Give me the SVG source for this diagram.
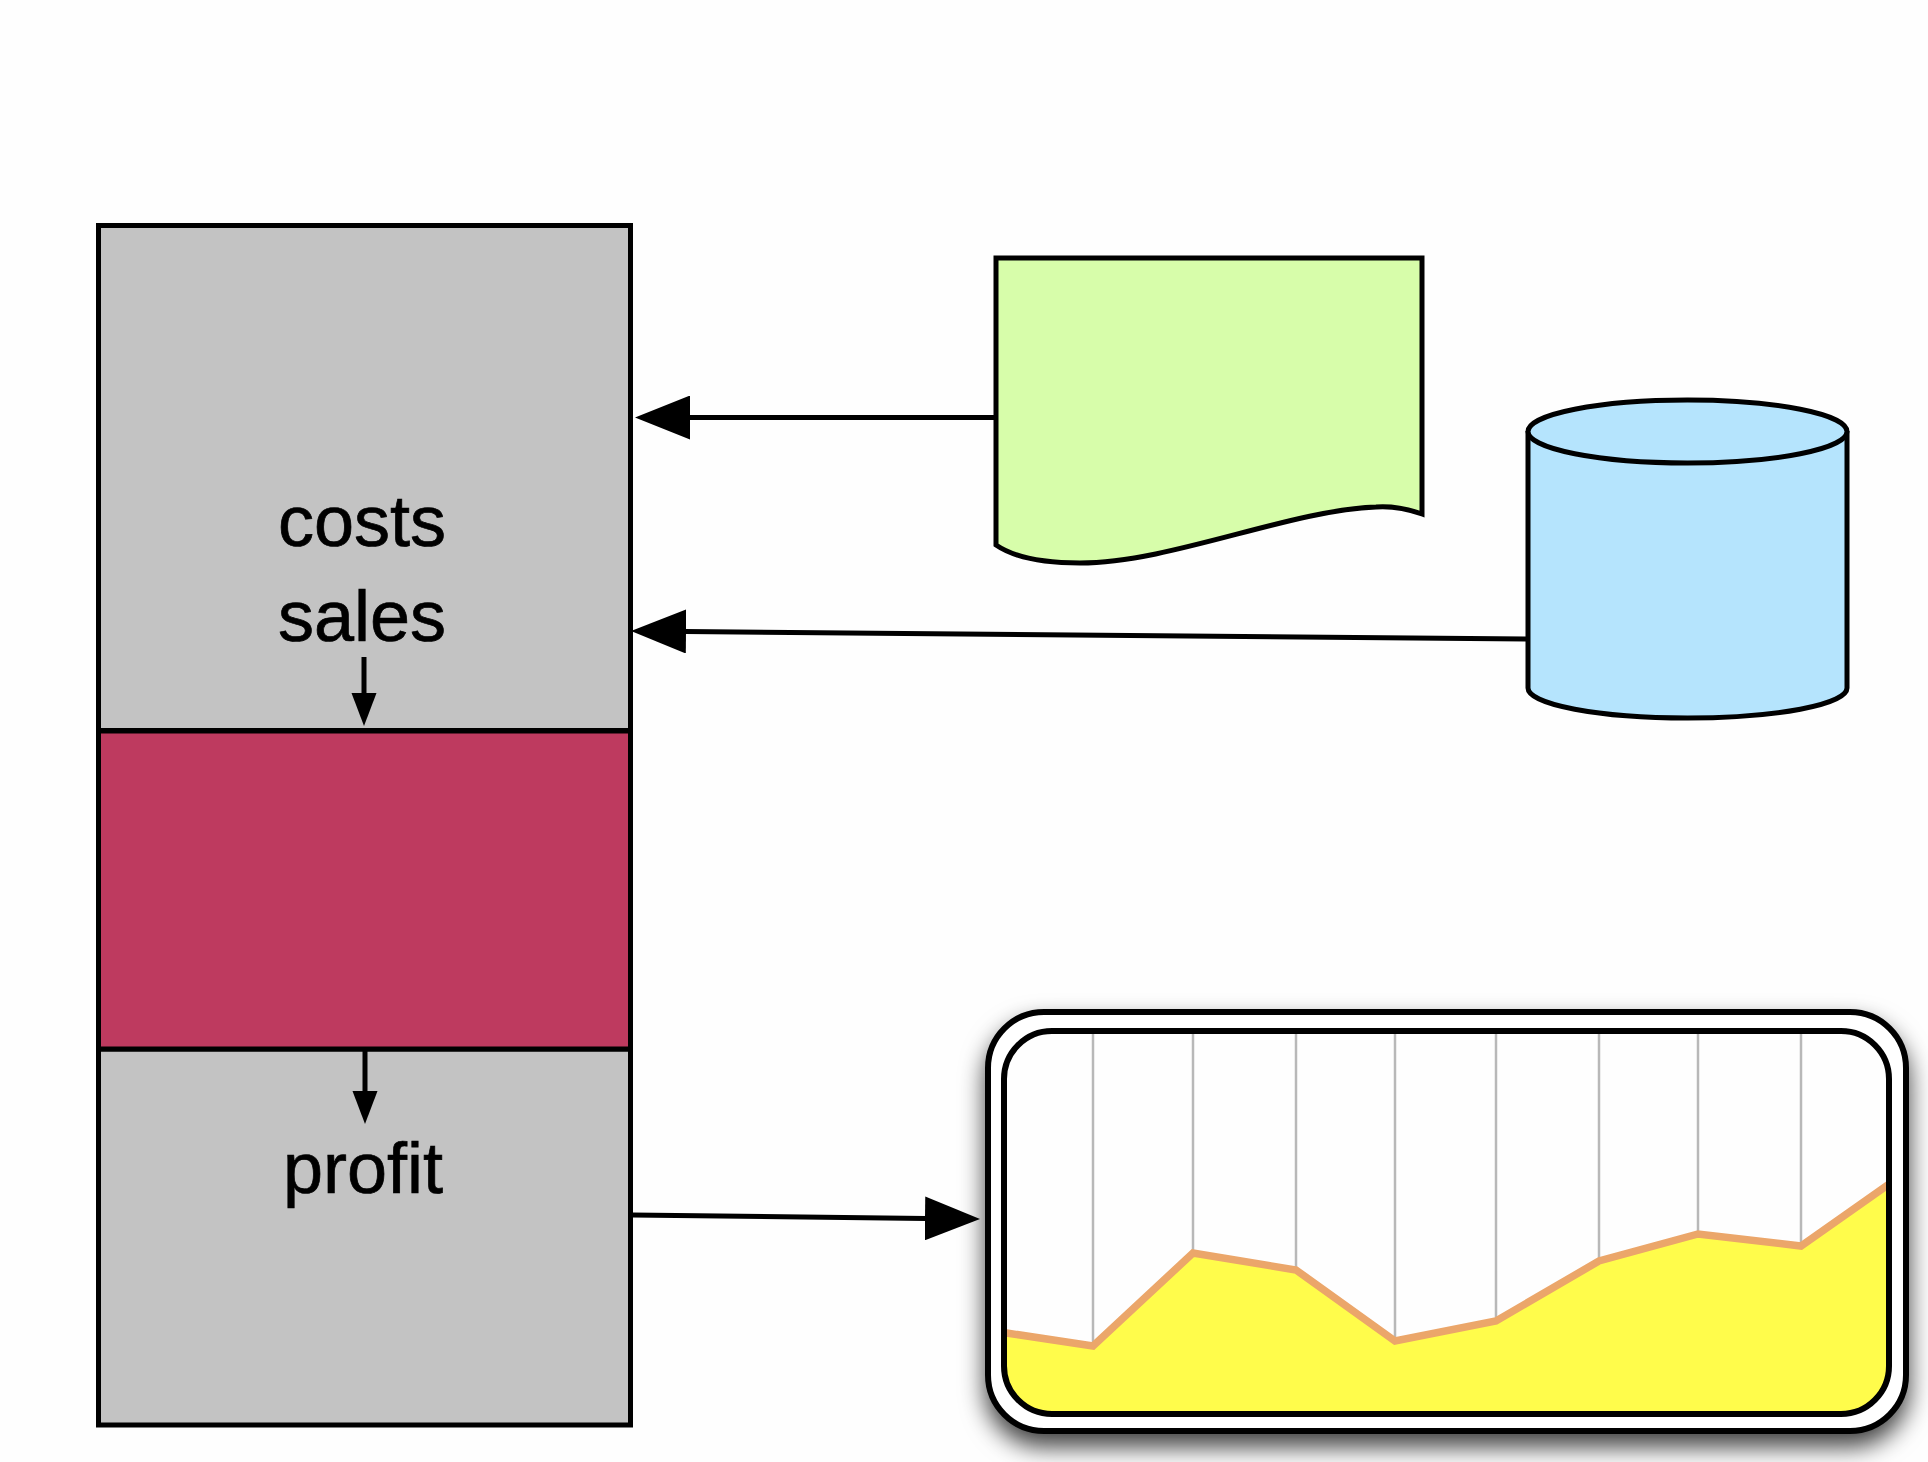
<svg xmlns="http://www.w3.org/2000/svg" width="1928" height="1462" viewBox="0 0 1928 1462">
<style>
.box{stroke:#000;stroke-width:5}
.label{font-family:"Liberation Sans",Arial,sans-serif;font-size:72px;fill:#000;stroke:#000;stroke-width:.7;text-anchor:middle}
.conn{stroke:#000;stroke-width:5;fill:none}
.big{marker-end:url(#bigHead)}
.small{marker-end:url(#smallHead)}
.grid{stroke:#b8b8b8;stroke-width:2.500}
</style>
<defs>
<marker id="bigHead" markerUnits="userSpaceOnUse" markerWidth="56" markerHeight="44" refX="1" refY="22" orient="auto"><path d="M0 0L55 22L0 44Z" fill="#000"/></marker>
<marker id="smallHead" markerUnits="userSpaceOnUse" markerWidth="34" markerHeight="26" refX="1" refY="12.500" orient="auto"><path d="M0 0L33 12.500L0 25Z" fill="#000"/></marker>
<filter id="shadow" x="-10%" y="-10%" width="120%" height="130%"><feDropShadow dx="0" dy="13" stdDeviation="12" flood-color="#000" flood-opacity=".75"/></filter>
<clipPath id="plot"><rect x="1004" y="1031" width="885" height="383" rx="48"/></clipPath>
</defs>
<rect width="1928" height="1462" fill="#fefefe"/>
<g id="sales-costs"><rect class="box" x="98.500" y="225.500" width="532" height="505" fill="#c3c3c3"/>
<text class="label" x="362" y="546">costs</text><text class="label" x="362" y="640.500">sales</text></g>
<g id="profit"><rect class="box" x="98.500" y="1049" width="532" height="376" fill="#c3c3c3"/>
<text class="label" x="363" y="1193">profit</text></g>
<g id="calculation"><rect class="box" x="98.500" y="731" width="532" height="318" fill="#be3a5f"/></g>
<g id="document"><path class="box" fill="#d7fdaa" d="M996 258H1422V514C1405 508 1390 506 1376 507C1290 510 1170 563 1080 563C1045 563 1015 558 996 545Z"/></g>
<g id="database"><path class="box" fill="#b5e4fd" d="M1528 431V688A159.500 30 0 0 0 1847 688V431"/><ellipse class="box" fill="#b5e4fd" cx="1687.500" cy="431.500" rx="159.500" ry="31.500"/></g>
<g id="chart">
<rect x="988" y="1012" width="918" height="419" rx="56" fill="#fff" stroke="#000" stroke-width="6" filter="url(#shadow)"/>
<g clip-path="url(#plot)">
<rect x="1004" y="1031" width="885" height="383" fill="#fefefe"/>
<path class="grid" d="M1093 1031V1346M1193 1031V1253M1296 1031V1270M1395 1031V1341M1496 1031V1321M1599 1031V1261M1698 1031V1234M1801 1031V1246"/>
<path d="M1000 1332L1093 1346L1193 1253L1296 1270L1395 1341L1496 1321L1599 1261L1698 1234L1801 1246L1892 1182V1420H1000Z" fill="#fffc4b"/>
<path d="M1000 1332L1093 1346L1193 1253L1296 1270L1395 1341L1496 1321L1599 1261L1698 1234L1801 1246L1892 1182" fill="none" stroke="#eba66a" stroke-width="7.500"/>
</g>
<rect x="1004" y="1031" width="885" height="383" rx="48" fill="none" stroke="#000" stroke-width="6"/>
</g>
<g id="connectors">
<line class="conn big" x1="995" y1="417.500" x2="689" y2="417.500"/>
<line class="conn big" x1="1527" y1="639" x2="685" y2="631.500"/>
<line class="conn big" x1="632" y1="1215" x2="926" y2="1218.400"/>
<line class="conn small" x1="364" y1="657" x2="364" y2="694"/>
<line class="conn small" x1="365" y1="1050" x2="365" y2="1092"/>
</g>
</svg>
